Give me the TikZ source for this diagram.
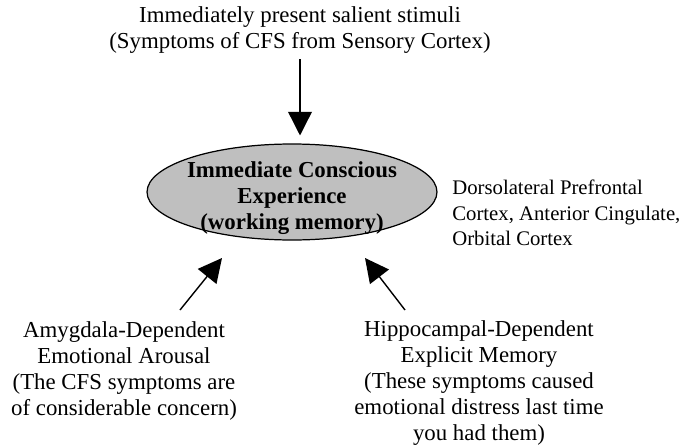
\documentclass[tikz,border=0pt]{standalone}
\usepackage{fontspec}
\setmainfont{Liberation Serif}
\usetikzlibrary{shapes.geometric}
\usetikzlibrary{arrows.meta}

\tikzset{
  txt/.style={align=center, font=\fontsize{13}{14.8}\selectfont, inner sep=0pt},
  side/.style={align=left, font=\fontsize{11.8}{14.6}\selectfont, inner sep=0pt},
  wmbox/.style={ellipse, draw, line width=0.7pt, fill=black!25, inner sep=0pt,
    minimum width=5.8cm, minimum height=1.92cm},
  arr/.style={-{Triangle[length=13.5pt,width=13.5pt]}, line width=0.8pt}
}

\begin{document}
\begin{tikzpicture}[x=0.02cm,y=-0.02cm]
    \useasboundingbox (0,0) rectangle (682,446);
    \node[txt] (stimuli) at (300,30)
      {Immediately present salient stimuli\\(Symptoms of CFS from Sensory Cortex)};
    \node[wmbox, label={[txt, name=wmtext, font=\fontsize{13}{14.8}\selectfont\bfseries,
        yshift=-0.12cm]center:{Immediate Conscious\\Experience\\(working memory)}}]
      (wm) at (292,192) {};
    \node[side, anchor=west] (pfc) at (452,213)
      {Dorsolateral Prefrontal\\Cortex, Anterior Cingulate,\\Orbital Cortex};
    \node[txt] (amyg) at (124,371)
      {Amygdala-Dependent\\Emotional Arousal\\(The CFS symptoms are\\of considerable concern)};
    \node[txt] (hippo) at (479,383)
      {Hippocampal-Dependent\\Explicit Memory\\(These symptoms caused\\emotional distress last time\\you had them)};
    % arrows into working memory
    \draw[arr, shorten <=3pt, shorten >=4.5pt] (stimuli.south) -- (stimuli.south |- wm.north);
    \coordinate (atail) at (180,310);
    \coordinate (atip) at (222,258);
    \coordinate (htail) at (405,310);
    \coordinate (htip) at (365,258);
    \draw[arr] (atail) -- (atip);
    \draw[arr] (htail) -- (htip);
  \end{tikzpicture}
\end{document}
